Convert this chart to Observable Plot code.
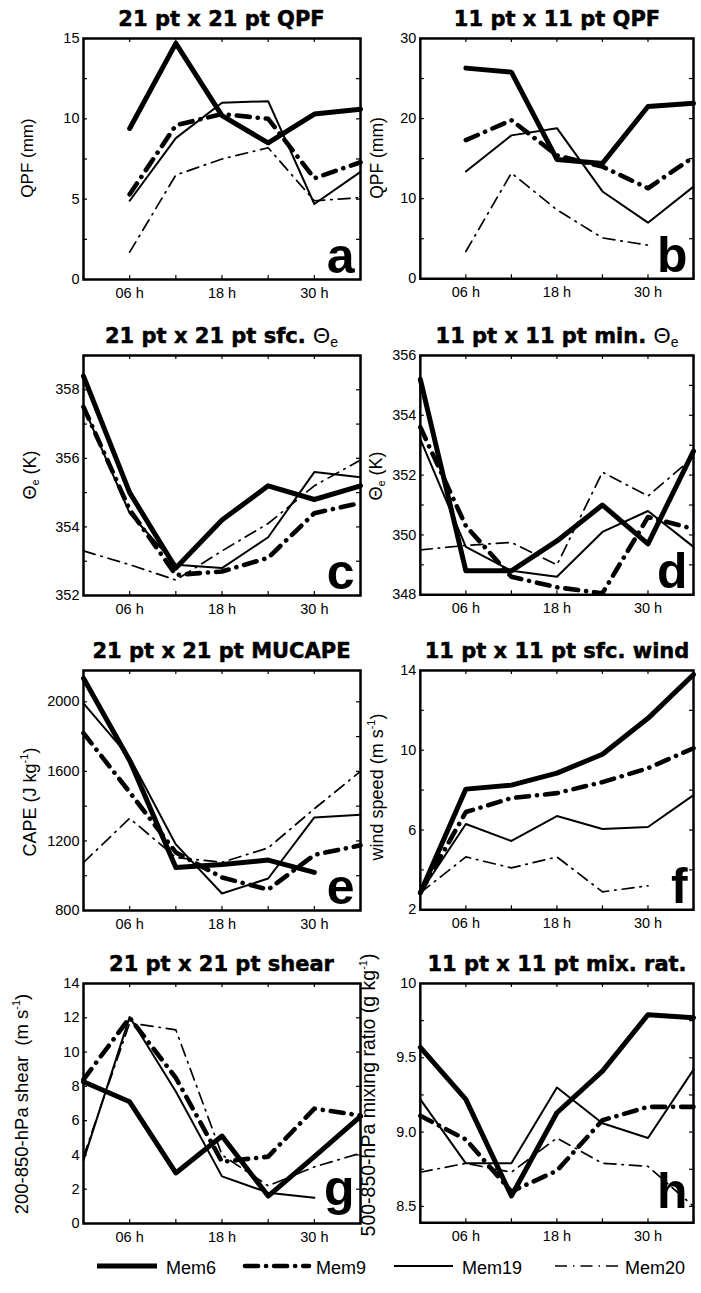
<!DOCTYPE html>
<html>
<head>
<meta charset="utf-8">
<script src="https://cdn.jsdelivr.net/npm/d3@7"></script>
<script src="https://cdn.jsdelivr.net/npm/@observablehq/plot@0.6"></script>
<style>
  body { margin: 0; background: #fff; }
  #fig { position: relative; width: 701px; height: 1293px; font-family: "Liberation Sans", Arial, sans-serif; color: #000; overflow: hidden; }
  .panel { position: absolute; }
  .title { position: absolute; font-family: "DejaVu Sans", sans-serif; font-weight: bold; font-size: 21px; white-space: nowrap; transform: translate(-50%, -50%); -webkit-text-stroke: 0.5px #000; }
  .title .sym { font-family: "Liberation Sans", Arial, sans-serif; font-weight: normal; font-size: 22px; -webkit-text-stroke: 0; }
  .title sub { font-family: "Liberation Sans", Arial, sans-serif; font-weight: normal; font-size: 14px; vertical-align: -4px; -webkit-text-stroke: 0; }
  .ylab { position: absolute; font-size: 18px; white-space: nowrap; transform: translate(-50%, -50%) rotate(-90deg); }
  .ylab sup { font-size: 11px; vertical-align: 8px; }
  .ylab sub { font-size: 11px; vertical-align: -3px; }
  #legend { position: absolute; left: 0; top: 1250px; }
</style>
</head>
<body>
<div id="fig"></div>
<script>
// Forecast hours (every 6 h) and ensemble members
const hours = [0, 6, 12, 18, 24, 30, 36];
const members = ["Mem6", "Mem9", "Mem19", "Mem20"];

// x-axis tick positions and labelled hours
const hourTicks = [0, 6, 12, 18, 24, 30, 36];
const hourLabels = [6, 18, 30];

// (a) 21 pt x 21 pt QPF (mm) — accumulations start at 06 h
const qpf21 = [
  [null, 9.4, 14.7, 10.2, 8.5, 10.3, 10.6],
  [null, 5.3, 9.6, 10.3, 10.0, 6.3, 7.3],
  [null, 4.9, 8.8, 11.0, 11.1, 4.7, 6.7],
  [null, 1.7, 6.5, 7.5, 8.2, 4.9, 5.1]
];
// (b) 11 pt x 11 pt QPF (mm)
const qpf11 = [
  [null, 26.3, 25.8, 14.9, 14.4, 21.5, 21.9],
  [null, 17.3, 19.8, 15.4, 14.0, 11.3, 15.2],
  [null, 13.4, 17.9, 18.8, 10.9, 7.0, 11.5],
  [null, 3.4, 13.2, 8.6, 5.1, 4.2, null]
];
// (c) 21 pt x 21 pt surface theta-e (K)
const thetaSfc21 = [
  [358.4, 355.0, 352.8, 354.2, 355.2, 354.8, 355.2],
  [357.5, 354.5, 352.6, 352.7, 353.1, 354.4, 354.7],
  [357.5, 354.4, 352.9, 352.8, 353.7, 355.6, 355.45],
  [353.3, 352.9, 352.45, 353.3, 354.1, 355.2, 355.95]
];
// (d) 11 pt x 11 pt minimum theta-e (K)
const thetaMin11 = [
  [355.2, 348.8, 348.8, 349.8, 351.0, 349.7, 352.8],
  [353.6, 350.3, 348.6, 348.25, 348.05, 350.6, 350.2],
  [353.2, 349.6, 348.8, 348.6, 350.1, 350.8, 349.6],
  [349.5, 349.65, 349.75, 349.0, 352.1, 351.3, 352.6]
];
// (e) 21 pt x 21 pt MUCAPE (J/kg)
const mucape21 = [
  [2135, 1663, 1047, 1065, 1090, 1019, null],
  [1820, 1480, 1134, 990, 920, 1120, 1175],
  [1991, 1680, 1180, 898, 984, 1335, 1350],
  [1076, 1330, 1105, 1077, 1160, 1385, 1600]
];
// (f) 11 pt x 11 pt surface wind speed (m/s)
const wind11 = [
  [2.85, 8.05, 8.25, 8.85, 9.8, 11.6, 13.8],
  [2.85, 6.9, 7.6, 7.85, 8.4, 9.1, 10.1],
  [2.85, 6.3, 5.45, 6.7, 6.05, 6.15, 7.75],
  [2.85, 4.65, 4.1, 4.65, 2.9, 3.2, null]
];
// (g) 21 pt x 21 pt 200-850-hPa shear (m/s)
const shear21 = [
  [8.27, 7.1, 2.95, 5.1, 1.6, 3.9, 6.25],
  [8.4, 12.0, 8.5, 3.6, 3.9, 6.7, 6.3],
  [3.7, 12.05, 7.7, 2.75, 1.8, 1.5, null],
  [3.9, 11.7, 11.3, 4.0, 2.2, 3.3, 4.1]
];
// (h) 11 pt x 11 pt 500-850-hPa mixing ratio (g/kg)
const mixRatio11 = [
  [9.57, 9.22, 8.57, 9.13, 9.41, 9.79, 9.77],
  [9.11, 8.95, 8.6, 8.74, 9.08, 9.17, 9.17],
  [9.22, 8.79, 8.79, 9.3, 9.06, 8.96, 9.42],
  [8.73, 8.79, 8.73, 8.96, 8.79, 8.77, 8.5]
];

// Line style of each member
const memberStyle = {
  Mem6:  {strokeWidth: 5, strokeDasharray: null},
  Mem9:  {strokeWidth: 4.6, strokeDasharray: "13,8,0.1,8", strokeLinecap: "round"},
  Mem19: {strokeWidth: 2, strokeDasharray: null},
  Mem20: {strokeWidth: 1.7, strokeDasharray: "12,6,1.5,6"}
};

// Frame geometry of the 2 x 4 grid (pixels)
const colX = [[83, 360], [420, 694]];
const rowY = [[38, 279], [355, 595], [670, 910], [983, 1223]];

const fig = document.getElementById("fig");
const fontFamily = '"Liberation Sans", Arial, sans-serif';

function range(a, b, step) {
  const out = [];
  for (let v = a; v <= b + 1e-9; v += step) out.push(+v.toFixed(6));
  return out;
}

function addPanel(p) {
  const [fx0, fx1] = colX[p.col];
  const [fy0, fy1] = rowY[p.row];
  const fw = fx1 - fx0, fh = fy1 - fy0;
  const mL = 60, mR = 8, mT = 8, mB = 30;
  const rows = [];
  p.series.forEach((vals, k) => vals.forEach((v, i) => rows.push({member: members[k], h: hours[i], v})));

  const lines = members.map(m => Plot.line(rows.filter(d => d.member === m), {
    x: "h", y: "v", stroke: "black", ...memberStyle[m]
  }));

  const svg = Plot.plot({
    width: fw + mL + mR,
    height: fh + mT + mB,
    marginLeft: mL, marginRight: mR, marginTop: mT, marginBottom: mB,
    x: {domain: [0, 36]},
    y: {domain: p.yDomain},
    style: {fontFamily, fontSize: "14px", color: "black", background: "transparent", overflow: "visible"},
    marks: [
      Plot.axisX(hourLabels, {tickSize: 0, tickPadding: 8, label: null,
        tickFormat: d => String(d).padStart(2, "0") + " h", fontSize: 14.5}),
      Plot.axisY(p.yLabels, {tickSize: 0, tickPadding: 4, label: null, tickFormat: p.yFormat, fontSize: 14.5}),
      // inward ticks on all four sides
      Plot.tickX(hourTicks, {x: d => d, insetTop: fh - 4, stroke: "black", strokeWidth: 1.2}),
      Plot.tickX(hourTicks, {x: d => d, insetBottom: fh - 4, stroke: "black", strokeWidth: 1.2}),
      Plot.tickY(p.yTicks, {y: d => d, insetRight: fw - 4, stroke: "black", strokeWidth: 1.2}),
      Plot.tickY(p.yTicks, {y: d => d, insetLeft: fw - 4, stroke: "black", strokeWidth: 1.2}),
      ...lines,
      Plot.frame({stroke: "black", strokeWidth: 2.5}),
      Plot.text([p.letter], {text: d => d, frameAnchor: "bottom-right", lineAnchor: "bottom",
        dx: -6, dy: p.letterDy ?? -7, fontSize: 50, fontWeight: "bold", fill: "black"})
    ]
  });
  const wrap = document.createElement("div");
  wrap.className = "panel";
  wrap.style.left = (fx0 - mL) + "px";
  wrap.style.top = (fy0 - mT) + "px";
  wrap.appendChild(svg);
  fig.appendChild(wrap);

  const t = document.createElement("div");
  t.className = "title";
  t.innerHTML = p.title;
  t.style.left = ((fx0 + fx1) / 2) + "px";
  t.style.top = (fy0 - 19) + "px";
  fig.appendChild(t);

  const yl = document.createElement("div");
  yl.className = "ylab";
  yl.innerHTML = p.ylabel;
  yl.style.left = p.ylabelPos[0] + "px";
  yl.style.top = p.ylabelPos[1] + "px";
  if (p.ylabelSize) yl.style.fontSize = p.ylabelSize + "px";
  fig.appendChild(yl);
}

const fmtInt = d => String(d);
const fmt1 = d => (d === 10 ? "10" : d.toFixed(1));

addPanel({col: 0, row: 0, series: qpf21, yDomain: [0, 15], yTicks: range(0, 15, 2.5), yLabels: [0, 5, 10, 15],
  yFormat: fmtInt, letter: "a", title: "21 pt x 21 pt QPF", ylabel: "QPF (mm)", ylabelPos: [28, 158], ylabelSize: 17});
addPanel({col: 1, row: 0, series: qpf11, yDomain: [0, 30], yTicks: range(0, 30, 5), yLabels: [0, 10, 20, 30],
  yFormat: fmtInt, letter: "b", title: "11 pt x 11 pt QPF", ylabel: "QPF (mm)", ylabelPos: [377, 158], ylabelSize: 17.5});
addPanel({col: 0, row: 1, series: thetaSfc21, yDomain: [352, 359], yTicks: range(352, 359, 1), yLabels: [352, 354, 356, 358],
  yFormat: fmtInt, letter: "c", title: '21 pt x 21 pt sfc. <span class="sym">Θ</span><sub>e</sub>',
  ylabel: "Θ<sub>e</sub> (K)", ylabelPos: [30, 475]});
addPanel({col: 1, row: 1, series: thetaMin11, yDomain: [348, 356], yTicks: range(348, 356, 1), yLabels: [348, 350, 352, 354, 356],
  yFormat: fmtInt, letter: "d", title: '11 pt x 11 pt min. <span class="sym">Θ</span><sub>e</sub>',
  ylabel: "Θ<sub>e</sub> (K)", ylabelPos: [376, 476]});
addPanel({col: 0, row: 2, series: mucape21, yDomain: [800, 2180], yTicks: range(800, 2000, 200), yLabels: [800, 1200, 1600, 2000],
  yFormat: fmtInt, letter: "e", title: "21 pt x 21 pt MUCAPE", ylabel: "CAPE (J kg<sup>-1</sup>)", ylabelPos: [29, 802]});
addPanel({col: 1, row: 2, series: wind11, yDomain: [2, 14], yTicks: range(2, 14, 2), yLabels: [2, 6, 10, 14],
  yFormat: fmtInt, letter: "f", title: "11 pt x 11 pt sfc. wind", ylabel: "wind speed (m s<sup>-1</sup>)", ylabelPos: [376, 787]});
addPanel({col: 0, row: 3, series: shear21, yDomain: [0, 14], yTicks: range(0, 14, 2), yLabels: range(0, 14, 2),
  yFormat: fmtInt, letter: "g", letterDy: -19, title: "21 pt x 21 pt shear", ylabel: "200-850-hPa shear&nbsp; (m s<sup>-1</sup>)",
  ylabelPos: [21, 1104], ylabelSize: 18.5});
addPanel({col: 1, row: 3, series: mixRatio11, yDomain: [8.39, 10], yTicks: range(8.5, 10, 0.25), yLabels: [8.5, 9, 9.5, 10],
  yFormat: fmt1, letter: "h", letterDy: -15, title: "11 pt x 11 pt mix. rat.", ylabel: "500-850-hPa mixing ratio (g kg<sup>-1</sup>)",
  ylabelPos: [368, 1095], ylabelSize: 19.5});

// Legend: line sample followed by member name
const legendItems = [
  {m: "Mem6", x0: 97, x1: 157, tx: 166},
  {m: "Mem9", x0: 245, x1: 309, tx: 316},
  {m: "Mem19", x0: 394, x1: 453, tx: 462},
  {m: "Mem20", x0: 555, x1: 618, tx: 625}
];
const leg = d3.select(fig).append("svg").attr("id", "legend").attr("width", 701).attr("height", 40);
for (const it of legendItems) {
  const s = memberStyle[it.m];
  leg.append("line").attr("x1", it.x0).attr("x2", it.x1).attr("y1", 16).attr("y2", 16)
    .attr("stroke", "black").attr("stroke-width", s.strokeWidth)
    .attr("stroke-dasharray", s.strokeDasharray).attr("stroke-linecap", s.strokeLinecap || "butt");
  leg.append("text").attr("x", it.tx).attr("y", 24).attr("font-family", fontFamily).attr("font-size", 18)
    .text(it.m);
}
</script>
</body>
</html>
